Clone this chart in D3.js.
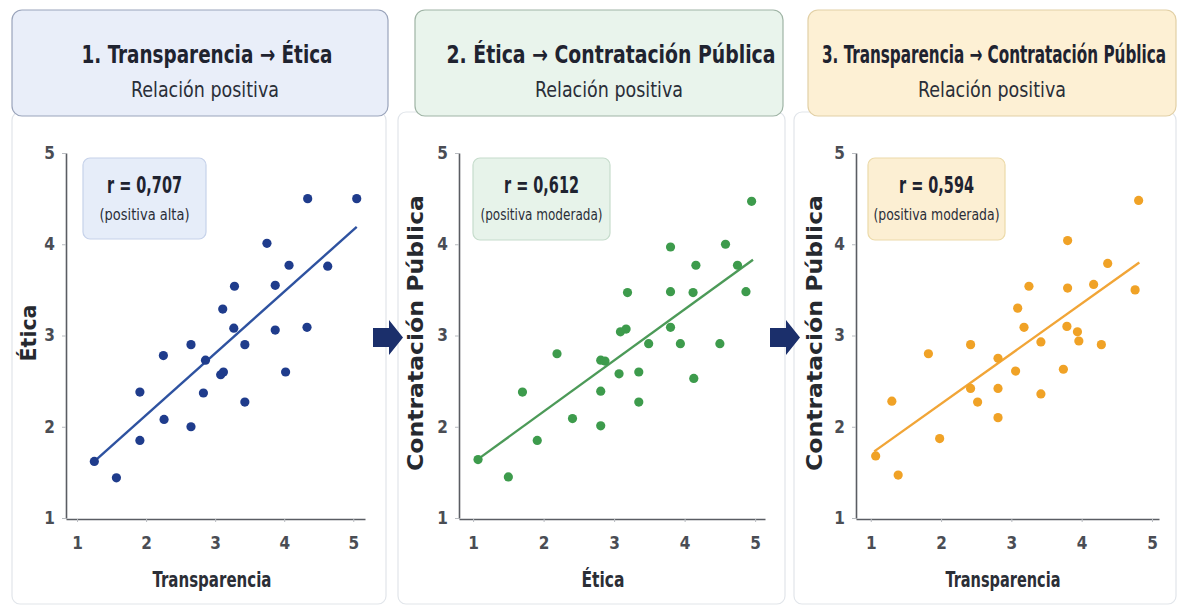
<!DOCTYPE html>
<html><head><meta charset="utf-8">
<script src="https://cdn.jsdelivr.net/npm/d3@7"></script>
<style>html,body{margin:0;padding:0;background:#fff;} svg{display:block;}</style>
</head><body><div id="chart"></div>
<script>
// ---------- data ----------
const tickValues = [1, 2, 3, 4, 5];
const titles = ["1. Transparencia \u2192 Ética", "2. Ética \u2192 Contratación Pública", "3. Transparencia \u2192 Contratación Pública"];
const subtitles = ["Relación positiva", "Relación positiva", "Relación positiva"];
const xLabels = ["Transparencia", "Ética", "Transparencia"];
const yLabels = ["Ética", "Contratación Pública", "Contratación Pública"];
const rValues = ["r = 0,707", "r = 0,612", "r = 0,594"];
const rNotes = ["(positiva alta)", "(positiva moderada)", "(positiva moderada)"];

// Panel 1: Transparencia (x) vs Ética (y)
const p1x = [4.34, 5.05, 3.75, 4.07, 4.63, 3.28, 3.87, 3.11, 3.27, 3.87, 4.33, 2.65, 3.43, 2.25, 2.86, 3.08, 3.12, 4.02, 1.91, 2.83, 3.43, 2.26, 2.65, 1.91, 1.25, 1.57];
const p1y = [4.50, 4.50, 4.01, 3.77, 3.76, 3.54, 3.55, 3.29, 3.08, 3.06, 3.09, 2.90, 2.90, 2.78, 2.73, 2.57, 2.60, 2.60, 2.38, 2.37, 2.27, 2.08, 2.00, 1.85, 1.62, 1.44];
const trend1x = [1.25, 5.05];
const trend1y = [1.62, 4.19];

// Panel 2: Ética (x) vs Contratación Pública (y)
const p2x = [4.95, 3.80, 4.58, 4.16, 4.75, 3.19, 3.80, 4.12, 4.87, 3.09, 3.17, 3.80, 3.49, 3.94, 4.50, 2.19, 2.81, 2.87, 3.07, 3.35, 4.13, 1.70, 2.81, 3.35, 2.41, 2.81, 1.91, 1.07, 1.50];
const p2y = [4.47, 3.97, 4.00, 3.77, 3.77, 3.47, 3.48, 3.47, 3.48, 3.04, 3.07, 3.09, 2.91, 2.91, 2.91, 2.80, 2.73, 2.72, 2.58, 2.60, 2.53, 2.38, 2.39, 2.27, 2.09, 2.01, 1.85, 1.64, 1.45];
const trend2x = [1.06, 4.97];
const trend2y = [1.64, 3.83];

// Panel 3: Transparencia (x) vs Contratación Pública (y)
const p3x = [4.81, 3.80, 4.37, 3.25, 3.80, 4.17, 4.76, 3.09, 3.18, 3.79, 3.94, 3.96, 3.42, 4.28, 2.42, 1.82, 2.81, 3.06, 3.74, 2.81, 3.42, 2.42, 2.52, 1.30, 2.81, 1.98, 1.07, 1.39];
const p3y = [4.48, 4.04, 3.79, 3.54, 3.52, 3.56, 3.50, 3.30, 3.09, 3.10, 3.04, 2.94, 2.93, 2.90, 2.90, 2.80, 2.75, 2.61, 2.63, 2.42, 2.36, 2.42, 2.27, 2.28, 2.10, 1.87, 1.68, 1.47];
const trend3x = [1.05, 4.82];
const trend3y = [1.73, 3.80];

const seriesX = [p1x, p2x, p3x];
const seriesY = [p1y, p2y, p3y];
const trendX = [trend1x, trend2x, trend3x];
const trendY = [trend1y, trend2y, trend3y];

// ---------- layout / style ----------
const W = 1179, H = 607;
const layout = [
  {hx: 12, hw: 376, tc: 207, tw: 251, bx: 12, bw: 374, xr: [66, 365], xd: [0.84, 5.17], ann: [83, 158, 123, 81], ytx: 36, ytw: 57, xtc: 212, xtw: 119, nw: 90,
   hFill: "#e9eef9", hStroke: "#9aa4bb", aFill: "#e6edf9", aStroke: "#c6d2ea", dot: "#1f3c8c", line: "#2e52a0"},
  {hx: 415, hw: 368, tc: 611, tw: 329, bx: 398, bw: 387, xr: [459, 765], xd: [0.8, 5.14], ann: [473, 158, 137, 82], ytx: 423, ytw: 276, xtc: 603, xtw: 43, nw: 122,
   hFill: "#e9f4ec", hStroke: "#9fb4a5", aFill: "#e7f3ea", aStroke: "#c6dccc", dot: "#3d9b4c", line: "#4c9a58"},
  {hx: 808, hw: 368, tc: 994, tw: 344, bx: 794, bw: 382, xr: [856, 1159], xd: [0.79, 5.1], ann: [868, 158, 137, 82], ytx: 822, ytw: 276, xtc: 1003, xtw: 115, nw: 126,
   hFill: "#fdf0d4", hStroke: "#e2d0a6", aFill: "#fcefd3", aStroke: "#ecdaa9", dot: "#f0a226", line: "#f1a537"}
];
const narrow = "'DejaVu Sans Condensed', 'DejaVu Sans', sans-serif";
const wide = "'DejaVu Sans', Verdana, sans-serif";

const svg = d3.select("#chart").append("svg").attr("width", W).attr("height", H);
const y = d3.scaleLinear().domain([1, 5]).range([518, 153]);

function fit(sel, w) {
  return sel.attr("textLength", w).attr("lengthAdjust", "spacingAndGlyphs");
}

layout.forEach((L, i) => {
  const g = svg.append("g");
  // panel body
  g.append("rect").attr("x", L.bx).attr("y", 112).attr("width", L.bw).attr("height", 492)
    .attr("rx", 8).attr("fill", "#fff").attr("stroke", "#e1e5ea").attr("stroke-width", 1.2);
  // header
  g.append("rect").attr("x", L.hx).attr("y", 10).attr("width", L.hw).attr("height", 106)
    .attr("rx", 10).attr("fill", L.hFill).attr("stroke", L.hStroke).attr("stroke-width", 1.2);
  fit(g.append("text").attr("x", L.tc).attr("y", 63).attr("text-anchor", "middle")
    .attr("font-family", narrow).attr("font-weight", "bold").attr("font-size", 25).attr("fill", "#1f2330")
    .text(titles[i]), L.tw);
  fit(g.append("text").attr("x", L.tc - 2).attr("y", 97).attr("text-anchor", "middle")
    .attr("font-family", narrow).attr("font-size", 21).attr("fill", "#2a2e38")
    .text(subtitles[i]), 148);

  const x = d3.scaleLinear().domain(L.xd).range(L.xr);

  // axes
  const ya = g.append("g").attr("transform", `translate(${L.xr[0]},0)`)
    .call(d3.axisLeft(y).tickValues(tickValues).tickSize(4).tickSizeOuter(0).tickPadding(7).tickFormat(d3.format("d")));
  const xa = g.append("g").attr("transform", `translate(0,519)`)
    .call(d3.axisBottom(x).tickValues(tickValues).tickSize(3).tickSizeOuter(0).tickPadding(15).tickFormat(d3.format("d")));
  [ya, xa].forEach(a => {
    a.select(".domain").attr("stroke", "#5a5d63").attr("stroke-width", 1.6);
    a.selectAll(".tick line").attr("stroke", "#b8bbc0");
    a.selectAll(".tick text").attr("font-family", narrow).attr("font-size", 17).attr("font-weight", "bold").attr("fill", "#4a4d54");
  });

  // axis titles
  fit(g.append("text").attr("x", L.xtc).attr("y", 587).attr("text-anchor", "middle")
    .attr("font-family", narrow).attr("font-weight", "bold").attr("font-size", 22).attr("fill", "#2b2e36")
    .text(xLabels[i]), L.xtw);
  fit(g.append("text").attr("transform", `translate(${L.ytx},333) rotate(-90)`).attr("text-anchor", "middle")
    .attr("font-family", wide).attr("font-weight", "bold").attr("font-size", 22).attr("fill", "#26292f")
    .text(yLabels[i]), L.ytw);

  // trend line
  const tl = trendX[i].map((v, k) => [v, trendY[i][k]]);
  g.append("path").datum(tl)
    .attr("d", d3.line().x(d => x(d[0])).y(d => y(d[1])))
    .attr("stroke", L.line).attr("stroke-width", 2.4).attr("fill", "none");

  // points
  const pts = seriesX[i].map((v, k) => [v, seriesY[i][k]]);
  g.selectAll("circle.pt").data(pts).join("circle").attr("class", "pt")
    .attr("cx", d => x(d[0])).attr("cy", d => y(d[1])).attr("r", 4.6)
    .attr("fill", L.dot);

  // annotation box
  const [ax, ay, aw, ah] = L.ann;
  g.append("rect").attr("x", ax).attr("y", ay).attr("width", aw).attr("height", ah).attr("rx", 7)
    .attr("fill", L.aFill).attr("stroke", L.aStroke).attr("stroke-width", 1.2);
  fit(g.append("text").attr("x", ax + aw / 2).attr("y", 193).attr("text-anchor", "middle")
    .attr("font-family", narrow).attr("font-weight", "bold").attr("font-size", 23).attr("fill", "#1f2330")
    .text(rValues[i]), 75);
  fit(g.append("text").attr("x", ax + aw / 2).attr("y", 220).attr("text-anchor", "middle")
    .attr("font-family", narrow).attr("font-size", 15.5).attr("fill", "#2a2e38")
    .text(rNotes[i]), L.nw);
});

// arrows between panels
[373, 770].forEach(ax => {
  const pts = [[ax, 328], [ax + 16, 328], [ax + 16, 320], [ax + 30, 337.5], [ax + 16, 355], [ax + 16, 347], [ax, 347]];
  svg.append("polygon").attr("points", pts.map(p => p.join(",")).join(" ")).attr("fill", "#1b2f6b");
});
</script>
</body></html>
